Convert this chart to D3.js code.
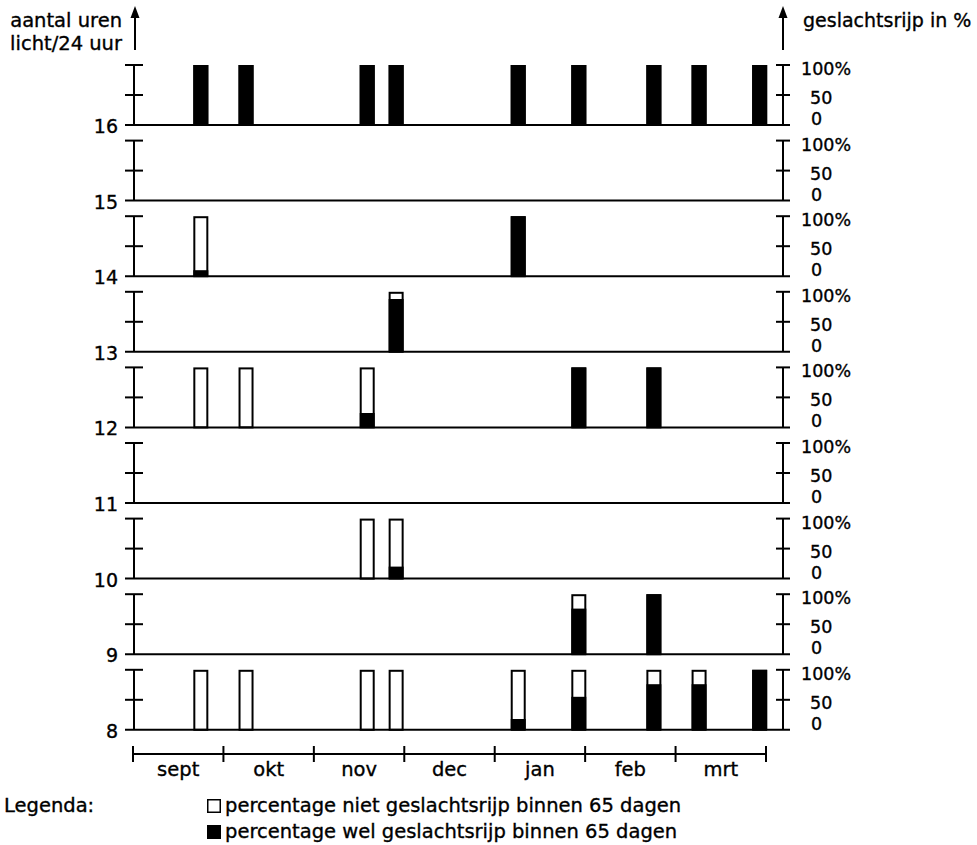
<!DOCTYPE html>
<html>
<head>
<meta charset="utf-8">
<script src="https://cdn.jsdelivr.net/npm/d3@7"></script>
<style>
  body { margin: 0; background: #fff; }
  svg text { font-family: 'DejaVu Sans', sans-serif; fill: #000; stroke: #000; stroke-width: 0.35px; }
</style>
</head>
<body>
<svg id="chart" width="977" height="845"></svg>
<script>
// hours of light per 24h, one panel each, top to bottom
const photoperiods = [16, 15, 14, 13, 12, 11, 10, 9, 8]
// start of each experiment, in months after 1 sept
const startMonths = [0.75, 1.25, 2.59, 2.91, 4.26, 4.93, 5.76, 6.26, 6.93]
const months = ['sept', 'okt', 'nov', 'dec', 'jan', 'feb', 'mrt']
const pctTicks = [0, 50, 100]
const pctLabels = ['0', '50', '100%']

// percentage sexually mature within 65 days (null = not tested)
const mature16 = [100, 100, 100, 100, 100, 100, 100, 100, 100]
const mature15 = [null, null, null, null, null, null, null, null, null]
const mature14 = [10, null, null, null, 100, null, null, null, null]
const mature13 = [null, null, null, 88, null, null, null, null, null]
const mature12 = [0, 0, 24, null, null, 100, 100, null, null]
const mature11 = [null, null, null, null, null, null, null, null, null]
const mature10 = [null, null, 0, 20, null, null, null, null, null]
const mature9 = [null, null, null, null, null, 76, 100, null, null]
const mature8 = [0, 0, 0, 0, 18, 55, 76, 76, 100]
const matureByPanel = [mature16, mature15, mature14, mature13, mature12,
  mature11, mature10, mature9, mature8]

const svg = d3.select('#chart')
const left = 134
const right = 783
const firstBase = 125
const step = 75.6
const panelH = 60
const barW = 15

let x = d3.scaleLinear().domain([0, months.length]).range([133, 766])

function line (g, x1, y1, x2, y2, w) {
  g.append('line').attr('x1', x1).attr('y1', y1).attr('x2', x2).attr('y2', y2)
    .attr('stroke', '#000').attr('stroke-width', w || 2)
}

photoperiods.forEach(function (hours, i) {
  let base = firstBase + i * step
  let y = d3.scaleLinear().domain([0, 100]).range([base, base - panelH])
  let g = svg.append('g').attr('class', 'panel')

  // bars: white = not mature, black = mature
  matureByPanel[i].forEach(function (pct, j) {
    if (pct === null) return
    let cx = x(startMonths[j])
    g.append('rect')
      .attr('x', cx - barW / 2 + 1).attr('y', y(100) + 1)
      .attr('width', barW - 2).attr('height', y(0) - y(100) - 1)
      .attr('fill', '#fff').attr('stroke', '#000').attr('stroke-width', 2)
    if (pct > 0) {
      g.append('rect')
        .attr('x', cx - barW / 2).attr('y', y(pct))
        .attr('width', barW).attr('height', y(0) - y(pct))
        .attr('fill', '#000')
    }
  })

  // left axis
  line(g, left, y(0), left, y(100))
  pctTicks.slice(1).forEach(function (t) {
    line(g, left - 9, y(t), left + 9, y(t))
  })
  // right axis
  line(g, right, y(0), right, y(100))
  pctTicks.slice(1).forEach(function (t) {
    line(g, right - 7, y(t), right + 7, y(t))
  })
  // baseline
  line(g, left - 9, y(0), right + 7, y(0))

  g.append('text').attr('x', 118).attr('y', base + 8)
    .attr('text-anchor', 'end').style('font-size', '19px').text(hours)

  let dxs = [28, 27, 18]
  let dys = [0, 9, 10]
  pctTicks.forEach(function (t, k) {
    g.append('text').attr('x', right + dxs[k]).attr('y', y(t) + dys[k])
      .style('font-size', '17.5px').text(pctLabels[k])
  })
})

// month axis
let axisY = 754
line(svg, x(0), axisY, x(months.length), axisY)
d3.range(months.length + 1).forEach(function (m) {
  line(svg, x(m), axisY - 8, x(m), axisY + 8)
})
months.forEach(function (m, k) {
  svg.append('text').attr('x', x(k + 0.5)).attr('y', 776)
    .attr('text-anchor', 'middle').style('font-size', '19.5px').text(m)
})

// axis titles with arrows
function arrow (ax) {
  line(svg, ax, 50, ax, 16)
  svg.append('path').attr('d', 'M' + ax + ',6L' + (ax + 4.5) + ',18L' + (ax - 4.5) + ',18Z')
    .attr('fill', '#000')
}
arrow(135)
arrow(783)
svg.append('text').attr('x', 122).attr('y', 27).attr('text-anchor', 'end')
  .style('font-size', '19.5px').text('aantal uren')
svg.append('text').attr('x', 122).attr('y', 50).attr('text-anchor', 'end')
  .style('font-size', '19.5px').text('licht/24 uur')
svg.append('text').attr('x', 803).attr('y', 27)
  .style('font-size', '19px').text('geslachtsrijp in %')

// legend
svg.append('text').attr('x', 4).attr('y', 812)
  .style('font-size', '19.5px').text('Legenda:')
let legend = [
  { fill: '#fff', label: 'percentage niet geslachtsrijp binnen 65 dagen' },
  { fill: '#000', label: 'percentage wel geslachtsrijp binnen 65 dagen' }
]
legend.forEach(function (d, k) {
  let ly = 812 + k * 26
  svg.append('rect').attr('x', 207.75).attr('y', ly - 12.25)
    .attr('width', 12.5).attr('height', 12.5)
    .attr('fill', d.fill).attr('stroke', '#000').attr('stroke-width', 1.5)
  svg.append('text').attr('x', 225).attr('y', ly)
    .style('font-size', '19.5px').text(d.label)
})
</script>
</body>
</html>
